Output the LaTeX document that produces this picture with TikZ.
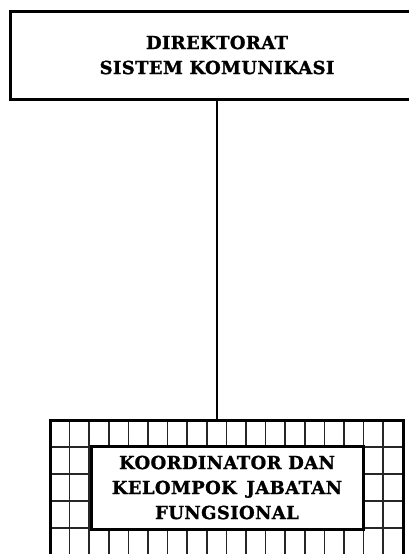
\documentclass[tikz,border=0pt]{standalone}
\usepackage{fontspec}
\setmainfont{DejaVu Serif}
\newfontfamily\unitfont[LetterSpace=2, BoldFeatures={FakeBold=1.2}]{DejaVu Serif}
\usetikzlibrary{positioning}

\tikzset{
  unitbox/.style={draw, line width=3pt, align=center, inner sep=0pt,
    font=\unitfont\bfseries\fontsize{18}{25}\selectfont},
  gridline/.style={black!85, line width=1.6pt}
}

\begin{document}
\begin{tikzpicture}[x=1pt, y=-1pt, thick]
  \useasboundingbox (0,0) rectangle (408,554);

  % Direktorat
  \node[unitbox, minimum width=414pt, minimum height=88pt] (direktorat) at (217,55)
    {DIREKTORAT\\SISTEM KOMUNIKASI};

  % Bingkai kotak-kotak
  \coordinate (gridnw) at (50,420);
  \coordinate (gridse) at (403,585);
  \begin{scope}
    \clip (gridnw) rectangle (gridse);
    \foreach \i in {1,...,17}
      \draw[gridline] (50+\i*19.6,420) -- ++(0,165);
    \foreach \j in {1,...,6}
      \draw[gridline] (50,420+\j*27) -- ++(353,0);
  \end{scope}
  \draw[line width=3pt] (gridnw) rectangle (gridse);

  % Koordinator
  \node[unitbox, fill=white, minimum width=272pt, minimum height=83pt] (koordinator) at (227,487.5)
    {KOORDINATOR DAN\\KELOMPOK \,JABATAN\\FUNGSIONAL};

  % Garis penghubung
  \draw[line width=1.2pt] (direktorat.south) -- (direktorat.south |- gridnw);
\end{tikzpicture}
\end{document}
